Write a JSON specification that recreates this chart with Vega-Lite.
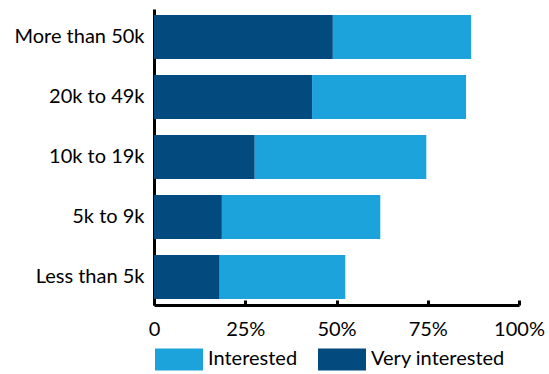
{
  "$schema": "https://vega.github.io/schema/vega-lite/v6.json",
  "autosize": {"type": "none"},
  "width": 365,
  "height": 296,
  "padding": {"left": 154, "top": 9, "right": 30, "bottom": 69},
  "background": "white",
  "config": {
    "font": "Lato",
    "view": {"stroke": null},
    "axis": {"labelFont": "Lato", "labelColor": "black", "grid": false}
  },
  "data": {
    "values": [
      {"income": "More than 50k", "level": "Very interested", "pct": 49.0},
      {"income": "More than 50k", "level": "Interested", "pct": 37.9},
      {"income": "20k to 49k", "level": "Very interested", "pct": 43.3},
      {"income": "20k to 49k", "level": "Interested", "pct": 42.2},
      {"income": "10k to 19k", "level": "Very interested", "pct": 27.6},
      {"income": "10k to 19k", "level": "Interested", "pct": 47.0},
      {"income": "5k to 9k", "level": "Very interested", "pct": 18.6},
      {"income": "5k to 9k", "level": "Interested", "pct": 43.4},
      {"income": "Less than 5k", "level": "Very interested", "pct": 18.0},
      {"income": "Less than 5k", "level": "Interested", "pct": 34.4}
    ]
  },
  "mark": {"type": "bar"},
  "encoding": {
    "y": {
      "field": "income",
      "type": "nominal",
      "sort": ["More than 50k", "20k to 49k", "10k to 19k", "5k to 9k", "Less than 5k"],
      "scale": {"paddingInner": 0.267, "paddingOuter": 0.1},
      "axis": {
        "title": null,
        "ticks": false,
        "domainColor": "black",
        "domainWidth": 3,
        "labelFontSize": 20,
        "labelPadding": 10
      }
    },
    "x": {
      "field": "pct",
      "type": "quantitative",
      "stack": "zero",
      "scale": {"domain": [0, 100], "nice": false},
      "axis": {
        "title": null,
        "values": [0, 25, 50, 75, 100],
        "labelExpr": "datum.value == 0 ? '0' : datum.value + '%'",
        "domainColor": "black",
        "domainWidth": 3,
        "tickColor": "black",
        "tickWidth": 3,
        "tickSize": -5,
        "labelFontSize": 20,
        "labelPadding": 19,
        "labelFlush": false,
        "labelOverlap": false
      }
    },
    "color": {
      "field": "level",
      "type": "nominal",
      "scale": {"domain": ["Interested", "Very interested"], "range": ["#1DA3DC", "#034A7E"]},
      "legend": {
        "title": null,
        "orient": "none",
        "direction": "horizontal",
        "legendX": 1,
        "legendY": 326,
        "symbolType": "M-1,-0.46H1V0.46H-1Z",
        "symbolSize": 2304,
        "symbolStrokeWidth": 0,
        "symbolOpacity": 1,
        "labelFontSize": 20,
        "labelFont": "Lato",
        "labelColor": "black",
        "labelOffset": 5,
        "columnPadding": 20
      }
    },
    "order": {"field": "level", "sort": "descending"}
  }
}
